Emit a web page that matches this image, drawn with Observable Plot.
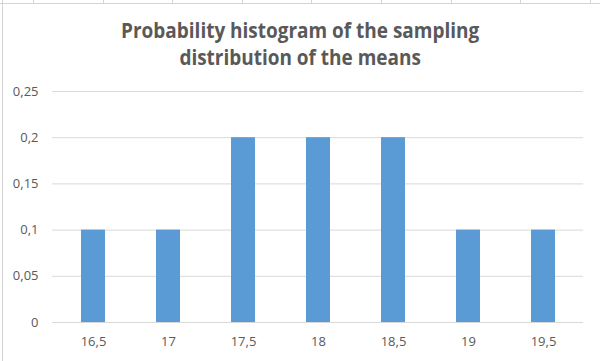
<!DOCTYPE html>
<html>
<head>
<meta charset="utf-8">
<script src="https://cdn.jsdelivr.net/npm/d3@7"></script>
<script src="https://cdn.jsdelivr.net/npm/@observablehq/plot@0.6"></script>
<style>
  html, body { margin: 0; padding: 0; background: #fff; }
  #wrap { position: relative; width: 600px; height: 361px; overflow: hidden; background: #fff; }
  #cellsTop { position: absolute; left: 0; top: 0; width: 600px; height: 3px;
    border-bottom: 1px solid #d4d4d4;
    background: repeating-linear-gradient(to right, transparent 0 33px, #d4d4d4 33px 34px, transparent 34px 69.6px); }
  #cellsLeft { position: absolute; left: 0; top: 0; width: 2px; height: 361px;
    border-right: 1px solid #d4d4d4; }
  #title { position: absolute; left: 0; top: 16px; width: 600px; text-align: center;
    font-family: "Open Sans", sans-serif; font-weight: 700; font-size: 22px; line-height: 27px;
    color: #595959; transform: scaleX(0.862); transform-origin: 301px 0; }
  #chart { position: absolute; left: 0; top: 80px; }
</style>
</head>
<body>
<div id="wrap">
  <div id="cellsTop"></div>
  <div id="cellsLeft"></div>
  <div id="title">Probability histogram of the sampling<br>distribution of the means</div>
  <div id="chart"></div>
</div>
<script>
const categories = ["16,5", "17", "17,5", "18", "18,5", "19", "19,5"];
const probabilities = [0.1, 0.1, 0.2, 0.2, 0.2, 0.1, 0.1];
const yTicks = [0, 0.05, 0.1, 0.15, 0.2, 0.25];

const data = categories.map((c, i) => ({category: c, p: probabilities[i]}));
const fmt = v => v === 0 ? "0" : String(+v.toFixed(2)).replace(".", ",");

const chart = Plot.plot({
  width: 600,
  height: 281,
  marginTop: 11,
  marginBottom: 39,
  marginLeft: 52,
  marginRight: 17,
  style: {fontFamily: "'Open Sans', sans-serif", background: "transparent"},
  x: {domain: categories, paddingInner: 0.684, paddingOuter: 0.342, label: null},
  y: {domain: [0, 0.25], label: null},
  marks: [
    Plot.gridY(yTicks, {stroke: "#d9d9d9", strokeOpacity: 1}),
    Plot.barY(data, {x: "category", y: "p", fill: "#5b9bd5"}),
    Plot.axisX({tickSize: 0, tickPadding: 14, fontSize: 13, fill: "#595959", label: null}),
    Plot.axisY(yTicks, {tickSize: 0, tickPadding: 14, tickFormat: fmt, fontSize: 13, fill: "#595959", label: null})
  ]
});
document.getElementById("chart").appendChild(chart);
</script>
</body>
</html>
